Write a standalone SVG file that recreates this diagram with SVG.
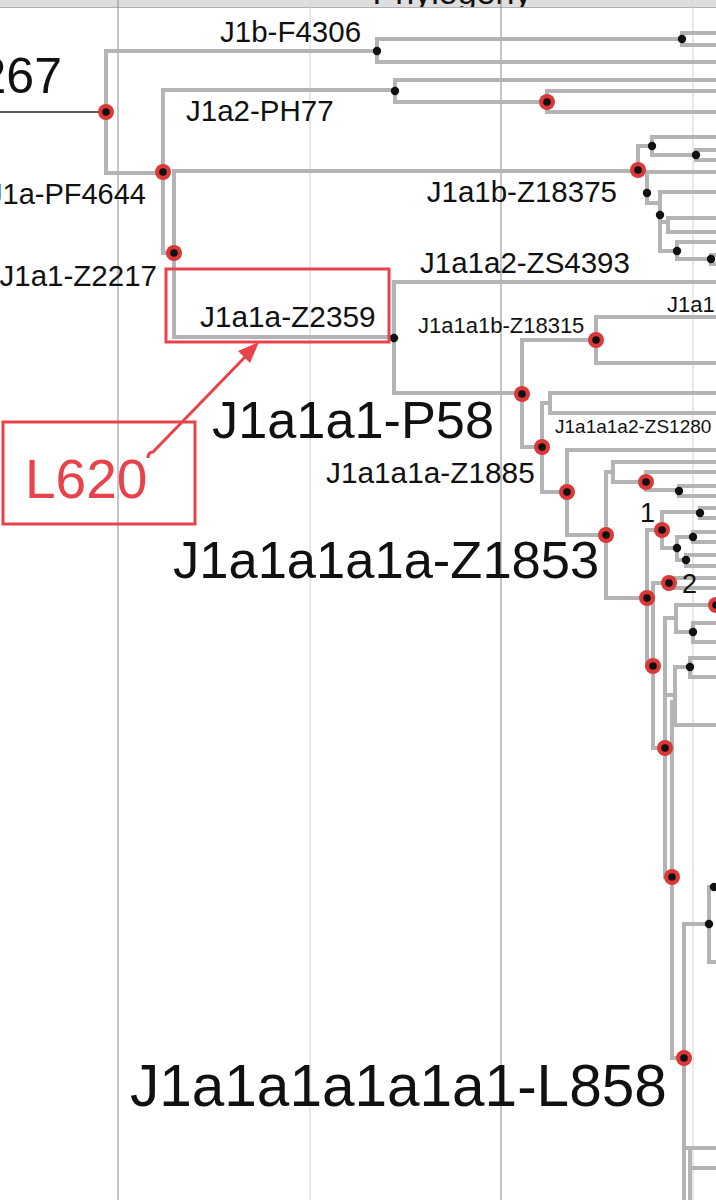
<svg xmlns="http://www.w3.org/2000/svg" xmlns:xlink="http://www.w3.org/1999/xlink" width="716" height="1200" viewBox="0 0 716 1200">
<style>
.br{fill:none;stroke:#b4b4b4;stroke-width:4;stroke-linejoin:miter}
.thin{fill:none;stroke:#222;stroke-width:1.5}
.grid-d{stroke:#8a8a8a;stroke-width:1}
.grid-l{stroke:#d2d2d2;stroke-width:1}
.lb{font-family:"Liberation Sans",Arial,sans-serif;fill:#111}
.red{fill:#e8434b;font-family:"Liberation Sans",Arial,sans-serif}
.ann{fill:none;stroke:#e8434b;stroke-width:3}
</style>
<defs>
<g id="rdot"><circle r="8" fill="#dc3838"/><circle r="3.8" fill="#111"/></g>
<g id="bdot"><circle r="4.2" fill="#111"/></g>
<clipPath id="hdr"><rect x="0" y="0" width="716" height="7"/></clipPath>
</defs>
<rect x="0" y="0" width="716" height="1200" fill="#fff"/>
<g id="header">
<rect x="0" y="0" width="716" height="7" fill="#dedede"/>
<text class="lb" x="452" y="4" font-size="34" text-anchor="middle" clip-path="url(#hdr)">Phylogeny</text>
<line x1="0" y1="7.5" x2="716" y2="7.5" stroke="#b0b0b0" stroke-width="1"/>
</g>
<g id="grid">
<line class="grid-d" x1="118" y1="0" x2="118" y2="1200"/>
<line class="grid-l" x1="310" y1="0" x2="310" y2="1200"/>
<line class="grid-d" x1="501" y1="0" x2="501" y2="1200"/>
<line class="grid-l" x1="693" y1="0" x2="693" y2="1200"/>
</g>
<g id="connectors">
<path class="thin" d="M0,112 H106"/>
<path class="br" d="M106,112 V51 H377 M106,112 V173 H163
M377,51 V39 H682 M377,51 V62 H720 M682,39 V33 H720 M682,39 V45 H720
M163,172 V90 H395 M163,172 V253 H174
M395,91 V80 H720 M395,91 V102 H547 M547,102 V91 H720 M547,102 V112 H720
M174,253 V171 H638 M174,253 V337 H394
M638,170 V146 H652 M652,146 V137 H720 M652,146 V155 H696 M696,155 V150 H720 M696,155 V160 H720
M638,172 H720 M647,172 V203 H660 M660,203 V192 H720 M660,203 V215
M660,215 V222 H668 M668,222 V218 H720 M668,222 V232 H720 M660,215 V251 H677
M677,251 V242 H720 M677,251 V259 H711 M711,259 V255 H720 M711,259 V264 H720
M394,338 V282 H720 M394,338 V393 H522
M522,394 V340 H596 M522,394 V447 H542
M596,340 V317 H720 M596,340 V363 H720
M542,447 V403 H550 M550,403 V393 H720 M550,403 V413 H720
M542,447 V492 H567
M567,492 V450 H720 M567,492 V535 H606
M606,535 V472 H613 M613,472 V462 H720 M613,472 V482 H646
M646,482 V472 H720 M646,482 V490 H679 M679,491 V486 H720 M679,491 V496 H720
M606,535 V598 H647
M647,598 V530 H662
M662,530 V512 H700 M700,513 V508 H720 M700,513 V518 H720
M662,530 V548 H677 M677,548 V537 H693 M693,537 V532 H720 M693,537 V542 H720
M677,548 V560 H686 M686,560 V555 H720 M686,560 V566 H720
M647,598 V666 H653
M653,666 V583 H669 M669,583 V578 H720 M669,583 V588 H720
M653,666 V748 H665
M665,748 V618 H676 M676,618 V605 H716 M676,618 V632 H693 M693,632 V623 H720 M693,632 V642 H720
M665,748 V695 H675 M675,695 V667 H690 M690,667 V658 H720 M690,667 V677 H720 M675,695 V725 H720
M665,748 V877 H672
M672,877 V700
M672,877 V1058 H684
M684,1058 V924 H709 M709,924 V887 H714 M709,924 V962 H720
M684,1058 V1200 M684,1148 H720 M690,1148 V1200 M690,1168 H720"/>
</g>
<g id="n-root"><use href="#rdot" x="106" y="112"/><text class="lb" x="62" y="93" font-size="50" text-anchor="end">267</text></g>
<g id="n-J1b"><use href="#bdot" x="377" y="51"/><text class="lb" x="220" y="42" font-size="29.5">J1b-F4306</text></g>
<g id="n-J1b-a"><use href="#bdot" x="682" y="39"/></g>
<g id="n-J1a"><use href="#rdot" x="163" y="172"/><text class="lb" x="146" y="204" font-size="29" text-anchor="end">J1a-PF4644</text></g>
<g id="n-J1a2"><use href="#bdot" x="395" y="91"/><text class="lb" x="186" y="121" font-size="29.5">J1a2-PH77</text></g>
<g id="n-J1a2-a"><use href="#rdot" x="547" y="102"/></g>
<g id="n-J1a1"><use href="#rdot" x="174" y="253"/><text class="lb" x="157" y="286" font-size="29.5" text-anchor="end">J1a1-Z2217</text></g>
<g id="n-J1a1b"><use href="#rdot" x="638" y="170"/><text class="lb" x="617" y="202" font-size="29.5" text-anchor="end">J1a1b-Z18375</text></g>
<g id="n-J1a1b-s">
<use href="#bdot" x="652" y="146"/><use href="#bdot" x="696" y="155"/><use href="#bdot" x="647" y="193"/>
<use href="#bdot" x="660" y="215"/><use href="#bdot" x="677" y="251"/><use href="#bdot" x="711" y="259"/>
</g>
<g id="n-J1a1a"><use href="#bdot" x="394" y="338"/><text class="lb" x="200" y="327" font-size="29.8">J1a1a-Z2359</text></g>
<g id="n-J1a1a2"><text class="lb" x="420" y="273" font-size="29.5">J1a1a2-ZS4393</text></g>
<g id="n-P58"><use href="#rdot" x="522" y="394"/><text class="lb" x="212" y="438" font-size="52.3">J1a1a1-P58</text></g>
<g id="n-Z18315"><use href="#rdot" x="596" y="340"/><text class="lb" x="418" y="333" font-size="22">J1a1a1b-Z18315</text></g>
<g id="n-J1a1-top"><text class="lb" x="667" y="312" font-size="22">J1a1</text></g>
<g id="n-J1a1a1a"><use href="#rdot" x="542" y="447"/></g>
<g id="n-ZS1280"><text class="lb" x="555" y="433" font-size="19">J1a1a1a2-ZS1280</text></g>
<g id="n-Z1885"><use href="#rdot" x="567" y="492"/><text class="lb" x="326" y="483" font-size="29.8">J1a1a1a-Z1885</text></g>
<g id="n-Z1853"><use href="#rdot" x="606" y="535"/><text class="lb" x="173" y="578" font-size="52.5">J1a1a1a1a-Z1853</text></g>
<g id="n-a"><use href="#rdot" x="646" y="482"/><use href="#bdot" x="679" y="491"/></g>
<g id="n-b"><use href="#rdot" x="647" y="598"/></g>
<g id="n-1"><use href="#rdot" x="662" y="530"/><text class="lb" x="640" y="522" font-size="27">1</text>
<use href="#bdot" x="700" y="513"/><use href="#bdot" x="677" y="548"/><use href="#bdot" x="693" y="537"/><use href="#bdot" x="686" y="560"/></g>
<g id="n-2"><use href="#rdot" x="669" y="583"/><text class="lb" x="682" y="593" font-size="27">2</text></g>
<g id="n-c"><use href="#rdot" x="653" y="666"/></g>
<g id="n-d"><use href="#rdot" x="665" y="748"/><use href="#rdot" x="716" y="605"/><use href="#bdot" x="693" y="632"/><use href="#bdot" x="690" y="667"/></g>
<g id="n-e"><use href="#rdot" x="672" y="877"/></g>
<g id="n-L858"><use href="#rdot" x="684" y="1058"/><text class="lb" x="130" y="1106" font-size="58.5">J1a1a1a1a1a1-L858</text>
<use href="#bdot" x="709" y="924"/><use href="#bdot" x="714" y="887"/></g>
<g id="annotation">
<rect class="ann" x="166" y="269" width="223" height="73"/>
<rect class="ann" x="3" y="422" width="192" height="102"/>
<text class="red" x="25" y="498" font-size="55">L620</text>
<path class="ann" d="M148,458 C148,454 150,452 153,452 L245,357"/>
<polygon fill="#e8434b" points="259,342 238,351 250,363"/>
</g>
</svg>
